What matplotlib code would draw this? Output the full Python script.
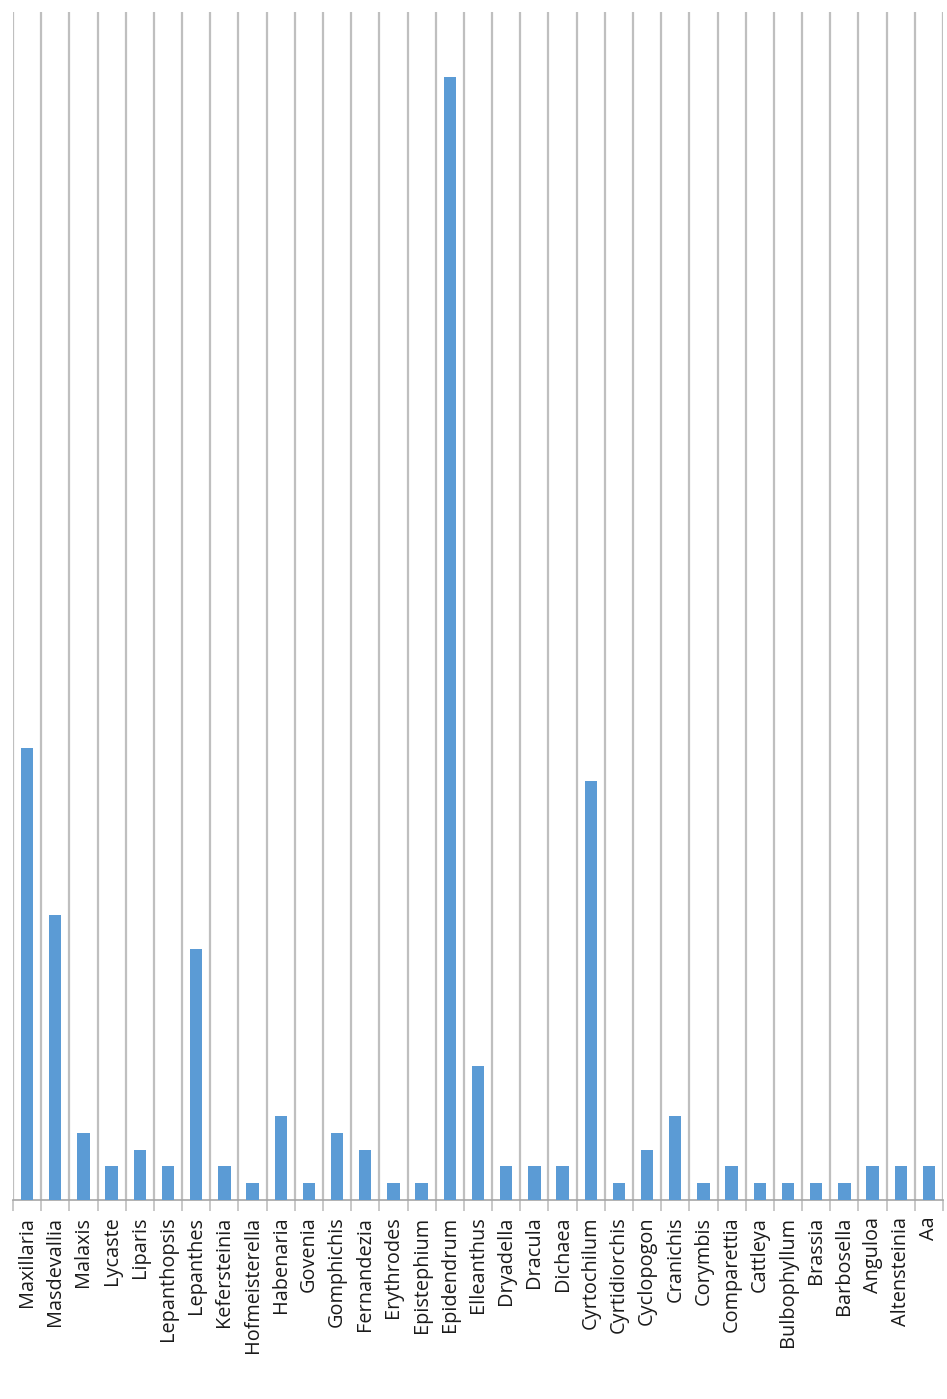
import matplotlib.pyplot as plt
import numpy as np

plt.rcParams['font.family'] = ['Open Sans', 'DejaVu Sans']

genera = ['Maxillaria', 'Masdevallia', 'Malaxis', 'Lycaste', 'Liparis',
          'Lepanthopsis', 'Lepanthes', 'Kefersteinia', 'Hofmeisterella',
          'Habenaria', 'Govenia', 'Gomphichis', 'Fernandezia', 'Erythrodes',
          'Epistephium', 'Epidendrum', 'Elleanthus', 'Dryadella', 'Dracula',
          'Dichaea', 'Cyrtochilum', 'Cyrtidiorchis', 'Cyclopogon', 'Cranichis',
          'Corymbis', 'Comparettia', 'Cattleya', 'Bulbophyllum', 'Brassia',
          'Barbosella', 'Anguloa', 'Altensteinia', 'Aa']
species = [27, 17, 4, 2, 3, 2, 15, 2, 1, 5, 1, 4, 3, 1, 1, 67, 8, 2, 2, 2,
           25, 1, 3, 5, 1, 2, 1, 1, 1, 1, 2, 2, 2]

fig = plt.figure(figsize=(9.47, 13.99), dpi=100)
ax = fig.add_axes([13/947, 1 - 1200/1399, 930/947, 1188/1399])

x = np.arange(len(genera))
ax.bar(x, species, width=0.44, color='#5B9BD5', zorder=3)

ax.set_xlim(-0.5, len(genera) - 0.5)
ax.set_ylim(0, 70.9)

# category boundaries drawn as full-height lines
ax.set_xticks(np.append(x - 0.5, len(genera) - 0.5), minor=True)
ax.grid(True, which='minor', axis='x', color='#BFBFBF', linewidth=1.6, zorder=0)
ax.tick_params(axis='x', which='minor', length=8, width=1.2, color='#BFBFBF', direction='out')

ax.set_xticks(x)
ax.set_xticklabels(genera, rotation=90, fontsize=14.3, color='#1A1A1A')
ax.tick_params(axis='x', which='major', length=0, pad=12)

ax.set_yticks([])
for side in ['left', 'right', 'top']:
    ax.spines[side].set_visible(False)
ax.spines['bottom'].set_color('#A6A6A6')
ax.spines['bottom'].set_linewidth(1.2)

fig.savefig('out.png', dpi=100)
